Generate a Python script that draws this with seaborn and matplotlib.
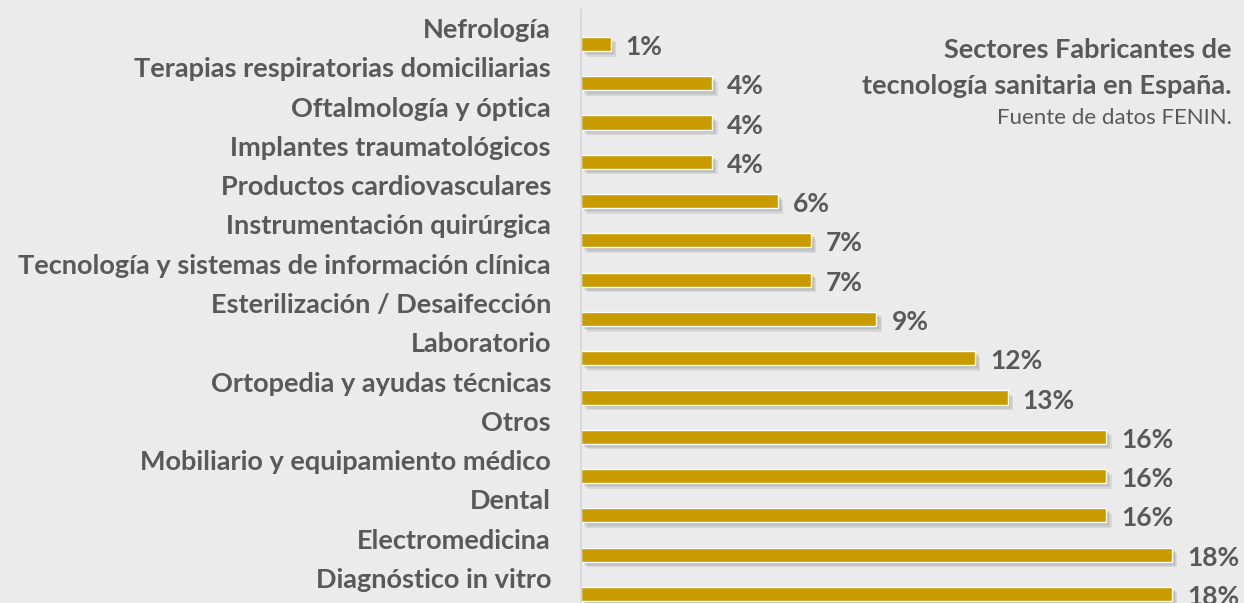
import pandas as pd
import numpy as np
import matplotlib.pyplot as plt
import matplotlib.patheffects as pe
import matplotlib.transforms as mtransforms
import seaborn as sns

sns.set_style("white")
plt.rcParams['font.family'] = ['Lato', 'DejaVu Sans']

# Data
sectores = [
    'Nefrología',
    'Terapias respiratorias domiciliarias',
    'Oftalmología y óptica',
    'Implantes traumatológicos',
    'Productos cardiovasculares',
    'Instrumentación quirúrgica',
    'Tecnología y sistemas de información clínica',
    'Esterilización / Desaifección',
    'Laboratorio',
    'Ortopedia y ayudas técnicas',
    'Otros',
    'Mobiliario y equipamiento médico',
    'Dental',
    'Electromedicina',
    'Diagnóstico in vitro',
]
porcentajes = [0.9, 4, 4, 4, 6, 7, 7, 9, 12, 13, 16, 16, 16, 18, 18]
etiquetas = ['1%', '4%', '4%', '4%', '6%', '7%', '7%', '9%', '12%', '13%',
             '16%', '16%', '16%', '18%', '18%']

df = pd.DataFrame({'sector': sectores, 'pct': porcentajes})

bg = '#EBEBEB'
gold = '#C89B00'
txt = '#595959'

fig = plt.figure(figsize=(12.44, 6.03), dpi=100, facecolor=bg)
ax = fig.add_axes([581 / 1244, 0, 1 - 581 / 1244, 593 / 603])
ax.set_facecolor(bg)

sns.barplot(data=df, x='pct', y='sector', orient='h', color=gold,
            saturation=1, width=0.36, ax=ax)

# soft drop shadow
shadow = [pe.SimplePatchShadow(offset=(d, -d), shadow_rgbFace='#8a8a8a', alpha=0.18)
          for d in (4, 3, 2)]
for p in ax.patches:
    p.set_path_effects(shadow + [pe.Normal()])

ax.set_xlim(0, 20.2)
ax.set_ylim(14.23, -0.865)
ax.set_xlabel('')
ax.set_ylabel('')
ax.set_xticks([])
ax.set_yticks([])
for s in ['top', 'right', 'bottom']:
    ax.spines[s].set_visible(False)
ax.spines['left'].set_color('#D9D9D9')
ax.spines['left'].set_linewidth(1.5)

# Category labels, shifted up relative to the bars
trans = mtransforms.blended_transform_factory(ax.transAxes, ax.transData)
for i, s in enumerate(sectores):
    ax.annotate(s, xy=(0, i), xycoords=trans, xytext=(-30, 14),
                textcoords='offset pixels', ha='right', va='center',
                fontsize=19.5, fontweight='bold', color=txt, annotation_clip=False)

# Value labels
for i, (v, lab) in enumerate(zip(porcentajes, etiquetas)):
    ax.annotate(lab, xy=(v, i), xytext=(15, -3), textcoords='offset pixels',
                ha='left', va='center', fontsize=19, fontweight='bold',
                color=txt, annotation_clip=False)

# Title block
fig.text(1232 / 1244, 1 - 50 / 603, 'Sectores Fabricantes de', ha='right', va='center',
         fontsize=19.5, fontweight='bold', color=txt)
fig.text(1232 / 1244, 1 - 86 / 603, 'tecnología sanitaria en España.', ha='right', va='center',
         fontsize=19.5, fontweight='bold', color=txt)
fig.text(1232 / 1244, 1 - 118 / 603, 'Fuente de datos FENIN.', ha='right', va='center',
         fontsize=16, color=txt)

plt.savefig('out.png', dpi=100, facecolor=bg)
plt.close()
